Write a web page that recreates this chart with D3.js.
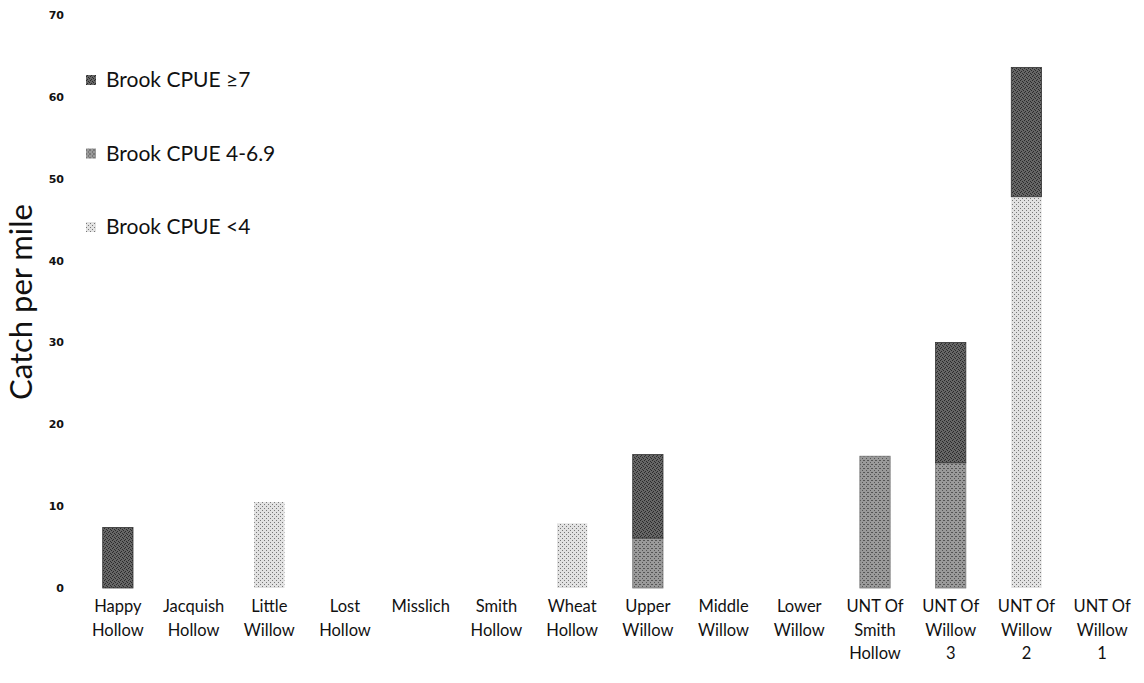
<!DOCTYPE html>
<html>
<head>
<meta charset="utf-8">
<script src="https://cdn.jsdelivr.net/npm/d3@7"></script>
<style>
  body { margin: 0; background: #fff; }
  text { font-family: Lato, "Open Sans", sans-serif; fill: #111; }
</style>
</head>
<body>
<div id="chart"></div>
<script>
// stream names, one per bar (labels wrap on spaces like the original)
const categories = [
  ['Happy', 'Hollow'], ['Jacquish', 'Hollow'], ['Little', 'Willow'], ['Lost', 'Hollow'],
  ['Misslich'], ['Smith', 'Hollow'], ['Wheat', 'Hollow'], ['Upper', 'Willow'],
  ['Middle', 'Willow'], ['Lower', 'Willow'], ['UNT Of', 'Smith', 'Hollow'],
  ['UNT Of', 'Willow', '3'], ['UNT Of', 'Willow', '2'], ['UNT Of', 'Willow', '1']
];
// catch per mile, by CPUE class (stacked bottom -> top: low, mid, high)
const lowCpue  = [0, 0, 10.5, 0, 0, 0, 7.9, 0, 0, 0, 0, 0, 47.8, 0];
const midCpue  = [0, 0, 0, 0, 0, 0, 0, 6.1, 0, 0, 16.1, 15.3, 0, 0];
const highCpue = [7.4, 0, 0, 0, 0, 0, 0, 10.2, 0, 0, 0, 14.7, 15.8, 0];
const yTicks = [0, 10, 20, 30, 40, 50, 60, 70];

const seriesKeys = ['low', 'mid', 'high'];
const legendNames = { high: 'Brook CPUE \u22657', mid: 'Brook CPUE 4-6.9', low: 'Brook CPUE <4' };

const width = 1144, height = 683;

const rows = categories.map((c, i) => ({
  key: c.join(' '), lines: c, low: lowCpue[i], mid: midCpue[i], high: highCpue[i]
}));

const svg = d3.select('#chart').append('svg')
  .attr('width', width).attr('height', height);

// dithered-looking fills, like the scanned original
const defs = svg.append('defs');
function makePattern(id, base, dots, dotColor, size) {
  const p = defs.append('pattern').attr('id', id)
    .attr('patternUnits', 'userSpaceOnUse').attr('width', size).attr('height', size);
  p.append('rect').attr('width', size).attr('height', size).attr('fill', base);
  dots.forEach(([dx, dy]) => p.append('rect').attr('x', dx).attr('y', dy)
    .attr('width', 1).attr('height', 1).attr('fill', dotColor));
}
makePattern('pHigh', '#666', [[0, 0], [2, 1], [1, 3], [3, 2]], '#2a2a2a', 4);
makePattern('pMid', '#9a9a9a', [[0, 0], [2, 2], [3, 0]], '#555', 4);
makePattern('pLow', '#e2e2e2', [[0, 0], [2, 2]], '#777', 4);
const fills = { high: 'url(#pHigh)', mid: 'url(#pMid)', low: 'url(#pLow)' };
const strokes = { high: '#333', mid: '#777', low: 'none' };

const x = d3.scaleBand()
  .domain(rows.map(d => d.key))
  .range([80, 1140])
  .paddingInner(0.6)
  .paddingOuter(0.3);

const y = d3.scaleLinear().domain([0, 70]).range([588, 15]);

const stack = d3.stack().keys(seriesKeys);
const layers = stack(rows);

svg.append('g').selectAll('g')
  .data(layers)
  .join('g')
  .attr('fill', d => fills[d.key])
  .attr('stroke', d => strokes[d.key])
  .attr('stroke-width', 0.8)
  .selectAll('rect')
  .data(d => d.filter(s => s[1] - s[0] > 0))
  .join('rect')
  .attr('x', d => x(d.data.key))
  .attr('width', x.bandwidth())
  .attr('y', d => y(d[1]))
  .attr('height', d => y(d[0]) - y(d[1]));

// y axis: labels only
const yAxis = svg.append('g')
  .attr('transform', 'translate(64,0)')
  .call(d3.axisLeft(y).tickValues(yTicks).tickSize(0).tickPadding(0));
yAxis.select('.domain').remove();
yAxis.selectAll('text')
  .style('font-family', '"DejaVu Sans", sans-serif')
  .style('font-size', '11px')
  .style('font-weight', 'bold')
  .attr('fill', '#222');

svg.append('text')
  .attr('transform', 'translate(32,302) rotate(-90)')
  .attr('text-anchor', 'middle')
  .style('font-size', '31px')
  .text('Catch per mile');

// x axis: multi-line category labels
const xAxis = svg.append('g')
  .attr('transform', 'translate(0,588)')
  .call(d3.axisBottom(x).tickSize(0).tickFormat(''));
xAxis.select('.domain').remove();
xAxis.selectAll('.tick').each(function(k) {
  const row = rows.find(r => r.key === k);
  const t = d3.select(this).append('text')
    .attr('text-anchor', 'middle')
    .attr('fill', '#111')
    .style('font-size', '16.5px');
  row.lines.forEach((line, i) => {
    t.append('tspan').attr('x', 0).attr('y', 24 + i * 23.5).text(line);
  });
});

// legend, top-left inside the plot
const legendOrder = ['high', 'mid', 'low'];
const legend = svg.append('g').attr('transform', 'translate(86,80)');
const items = legend.selectAll('g').data(legendOrder).join('g')
  .attr('transform', (d, i) => `translate(0,${i * 73.5})`);
items.append('rect')
  .attr('x', 0).attr('y', -5).attr('width', 10).attr('height', 10)
  .attr('fill', d => fills[d]);
items.append('text')
  .attr('x', 20).attr('y', 0).attr('dy', '0.35em')
  .style('font-size', '21px')
  .text(d => legendNames[d]);
</script>
</body>
</html>
